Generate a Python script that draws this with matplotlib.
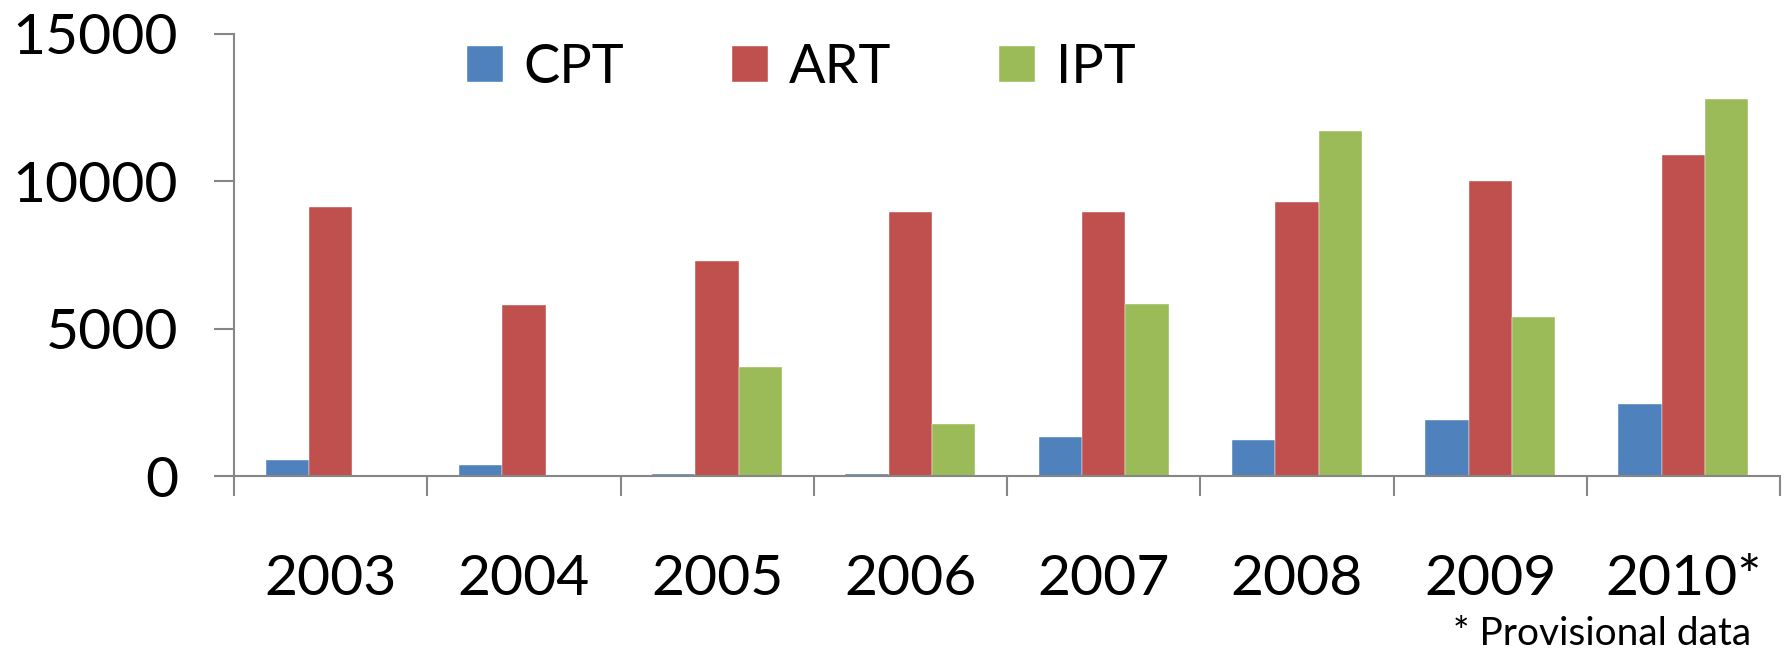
import matplotlib
matplotlib.use('Agg')
import matplotlib.pyplot as plt
import numpy as np

FONT = 'Lato'

years = ['2003', '2004', '2005', '2006', '2007', '2008', '2009', '2010*']
series_names = ['CPT', 'ART', 'IPT']
cpt = [550, 370, 70, 70, 1330, 1210, 1890, 2440]
art = [9130, 5810, 7300, 8970, 8960, 9310, 10000, 10890]
ipt = [0, 0, 3710, 1760, 5840, 11710, 5380, 12800]
colors = ['#4F81BD', '#C0504D', '#9BBB59']

fig = plt.figure(figsize=(17.89, 6.52), dpi=100)
fig.patch.set_facecolor('white')
ax = fig.add_axes([0.1308, 0.2699, 0.8642, 0.678])

x = np.arange(len(years))
w = 0.224
for i, (vals, c, name) in enumerate(zip([cpt, art, ipt], colors, series_names)):
    ax.bar(x + (i - 1) * w, vals, width=w, color=c, label=name,
           edgecolor='white', linewidth=0.3)

ax.set_xlim(-0.5, len(years) - 0.5)
ax.set_ylim(0, 15000)
ax.set_yticks([0, 5000, 10000, 15000])

axis_gray = '#868686'
for s in ['top', 'right']:
    ax.spines[s].set_visible(False)
for s in ['left', 'bottom']:
    ax.spines[s].set_color(axis_gray)
    ax.spines[s].set_linewidth(1.5)

ax.set_xticks(x)
ax.set_xticklabels(years, fontsize=41, fontfamily=FONT)
ax.set_xticks(np.arange(-0.5, len(years)), minor=True)
ax.tick_params(axis='x', which='major', length=0, pad=56)
ax.tick_params(axis='x', which='minor', length=14.4, width=1.5, color=axis_gray)
ax.tick_params(axis='y', length=14.4, width=1.5, color=axis_gray, pad=26)
for lab in ax.get_yticklabels():
    lab.set_fontsize(41)
    lab.set_fontfamily(FONT)

ax.legend(loc='upper left', bbox_to_anchor=(467 / 1789, 1 - 43 / 652),
          bbox_transform=fig.transFigure, ncol=3, frameon=False,
          prop={'family': FONT, 'size': 39}, handlelength=0.66,
          handleheight=0.66, handletextpad=0.38, columnspacing=2.0,
          borderpad=0, borderaxespad=0)

fig.text(1751 / 1789, 1 - 645 / 652, '* Provisional data', ha='right',
         va='baseline', fontsize=28, fontfamily=FONT)

fig.savefig('out.png', dpi=100, facecolor='white')
